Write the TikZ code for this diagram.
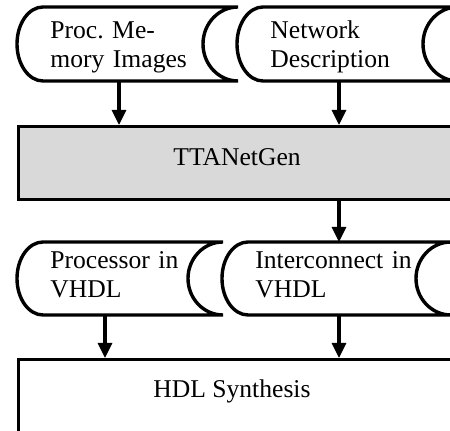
\documentclass[tikz,border=0pt]{standalone}
\usepackage{fontspec}
\setmainfont{Liberation Serif}
\usetikzlibrary{arrows.meta}
\definecolor{boxgray}{HTML}{D9D9D9}
\frenchspacing

\begin{document}
\begin{tikzpicture}[x=0.5pt, y=-0.5pt,
	store/.style={line width=1.7pt},
	procbox/.style={draw, line width=1.7pt, inner sep=0pt},
	flow/.style={line width=1.6pt, -{Triangle[length=7.5pt,width=7pt]}},
	txt/.style={inner sep=0pt, font=\fontsize{12.8}{14.2}\selectfont},
	doc/.style={txt, anchor=base west, text width=95pt, align=left}]
				\useasboundingbox (0,0) rectangle (450,431);
				\clip (0,0) rectangle (450,431);
				\foreach \n/\l/\r/\t/\b/\ax in {mem/17/238/7/81/119, net/237/458/7/81/339, proc/17/223/242/315/105, ic/222/451/242/315/339} {
					\draw[store] (\l+26,\t) -- (\r,\t) arc[start angle=270, end angle=90, x radius=35, y radius={(\b-\t)/2}]
						-- (\l+26,\b) arc[start angle=90, end angle=270, x radius=26, y radius={(\b-\t)/2}];
					\coordinate (\n-top) at (\ax,\t);
					\coordinate (\n-bot) at (\ax,\b);
				}
				\node[doc] (mem) at (50,39) {Proc. Me-\\mory Images};
				\node[doc] (net) at (270,39) {Network\\Description};
				\node[doc] (proc) at (50,269) {Processor in\\VHDL};
				\node[doc] (ic) at (255,269) {Interconnect in\\VHDL};
				
				\node[procbox, fill=boxgray, anchor=north west, minimum width=230pt, minimum height=36.5pt] (gen) at (17,125) {};
				\node[txt, anchor=base west] (gen-t) at (173,166) {TTANetGen};
				\node[procbox, anchor=north west, minimum width=230pt, minimum height=60pt] (syn) at (17,358) {};
				\node[txt, anchor=base west] (syn-t) at (153,398) {HDL Synthesis};
				
				\draw[flow] (mem-bot) -- (mem-bot |- gen.north);
				\draw[flow] (net-bot) -- (net-bot |- gen.north);
				\draw[flow] (ic-top |- gen.south) -- (ic-top);
				\draw[flow] (proc-bot) -- (proc-bot |- syn.north);
				\draw[flow] (ic-bot) -- (ic-bot |- syn.north);
			\end{tikzpicture}
\end{document}
